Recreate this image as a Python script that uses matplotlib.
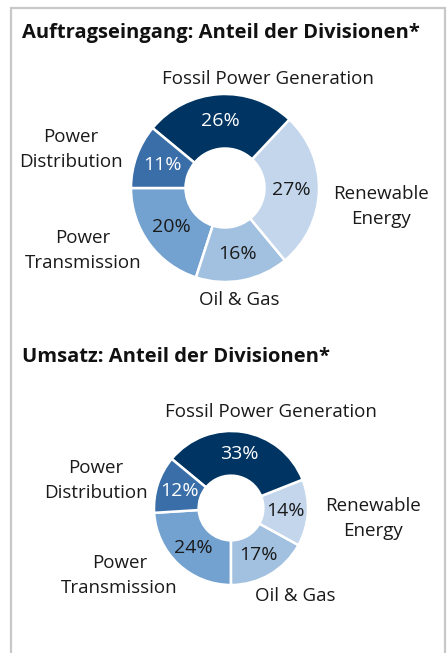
import numpy as np
import matplotlib.pyplot as plt
from matplotlib.patches import Rectangle

# Daten
divisions = ['Power\nTransmission', 'Oil & Gas', 'Renewable\nEnergy',
             'Fossil Power Generation', 'Power\nDistribution']
orders = [20, 16, 27, 26, 11]     # Auftragseingang
revenue = [24, 17, 14, 33, 12]    # Umsatz

title_orders = 'Auftragseingang: Anteil der Divisionen*'
title_revenue = 'Umsatz: Anteil der Divisionen*'

colors = ['#73a2d0', '#a2c1e0', '#c3d6ec', '#003462', '#3a6ea8']
pct_colors = ['#1a1a1a', '#1a1a1a', '#1a1a1a', 'white', 'white']

plt.rcParams['font.family'] = ['Open Sans', 'DejaVu Sans']

fig = plt.figure(figsize=(4.47, 6.53), dpi=100)
ax = fig.add_axes([0, 0, 1, 1])
ax.axis('off')

# Rahmen
fig.patches.append(Rectangle((11 / 447, -0.1), 434 / 447, 1.1 - 8 / 653,
                             transform=fig.transFigure, fill=False,
                             edgecolor='#c8c8c8', linewidth=1.6))


def donut(values, center, radius, start, label_pos, title, title_y):
    wedges, _ = ax.pie(values, colors=colors, startangle=start,
                       counterclock=True, center=center, radius=radius,
                       wedgeprops=dict(width=radius * 0.58, edgecolor='white',
                                       linewidth=1.8))
    for w, v, c in zip(wedges, values, pct_colors):
        ang = np.deg2rad((w.theta1 + w.theta2) / 2)
        x = center[0] + 0.71 * radius * np.cos(ang)
        y = center[1] + 0.71 * radius * np.sin(ang)
        ax.text(x, y, f'{v}%', ha='center', va='center', fontsize=14,
                color=c)
    for name, (dx, dy) in zip(divisions, label_pos):
        ax.text(center[0] + dx * radius, center[1] + dy * radius, name,
                ha='center', va='center', fontsize=13.5, color='#1a1a1a',
                linespacing=1.5)
    ax.text(22, title_y, title, ha='left', va='center', fontsize=14.5,
            fontweight='bold', color='#111111')


donut(orders, (225, 653 - 188), 94, 180,
      [(-1.51, -0.66), (0.15, -1.19), (1.66, -0.20), (0.46, 1.16), (-1.64, 0.41)],
      title_orders, 653 - 33)
donut(revenue, (231, 653 - 508), 77, 183.6,
      [(-1.45, -0.88), (0.83, -1.14), (1.84, -0.14), (0.52, 1.25), (-1.75, 0.36)],
      title_revenue, 653 - 357)

ax.set_xlim(0, 447)
ax.set_ylim(0, 653)
ax.set_aspect('equal')

fig.savefig('out.png', dpi=100)
